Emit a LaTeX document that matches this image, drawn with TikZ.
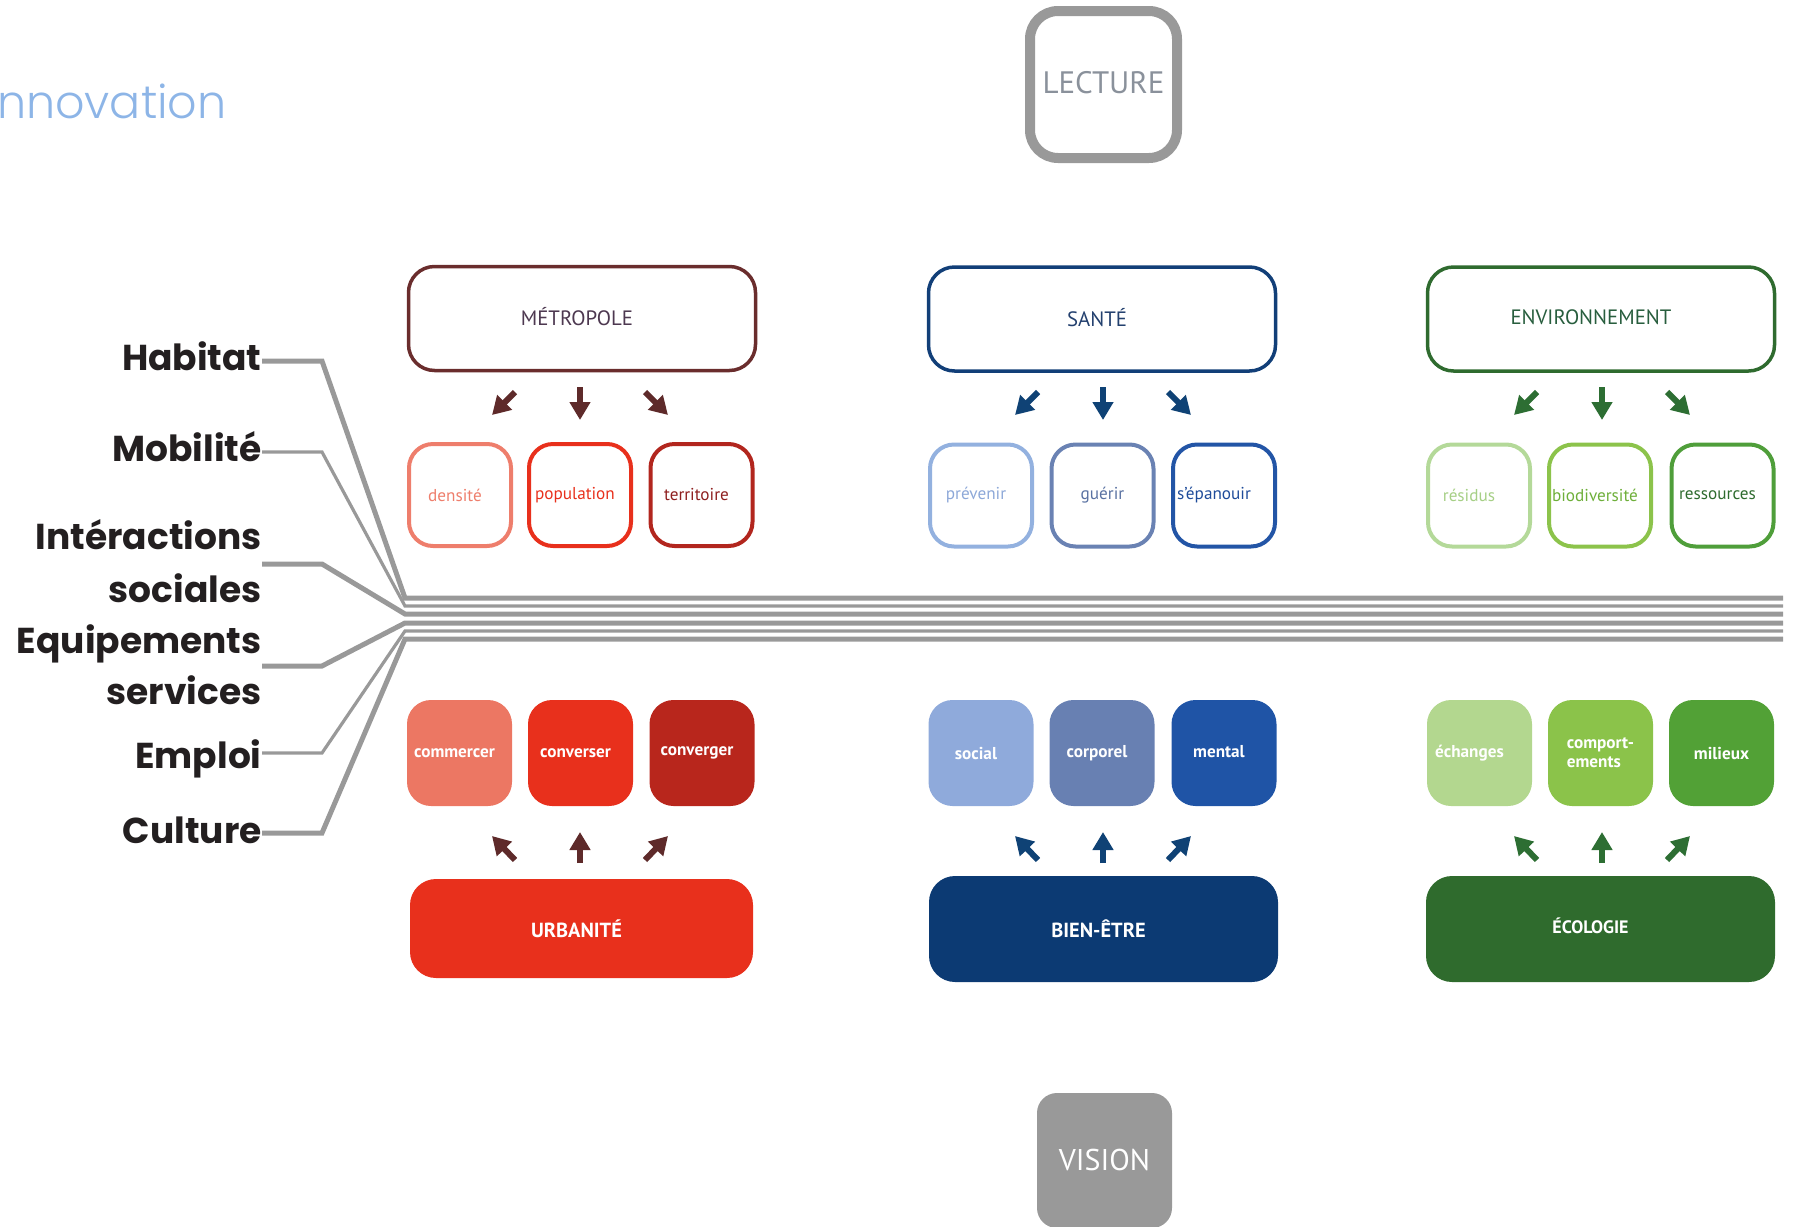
\documentclass[tikz,border=0pt]{standalone}
\usepackage{fontspec}
\setmainfont{PT Sans}
\newfontfamily\geo{Poppins}
\newfontfamily\geolight{Poppins Light}
\usetikzlibrary{arrows.meta}
\newcommand\lft[1]{\hspace*{-5pt}#1}
\definecolor{metroDark}{HTML}{6A2D2D}
\definecolor{metroText}{HTML}{4D3850}
\definecolor{metroArrow}{HTML}{5E2A2A}
\definecolor{salmon}{HTML}{EE7E6C}
\definecolor{salmonFill}{HTML}{EC7763}
\definecolor{redc}{HTML}{E8301C}
\definecolor{darkred}{HTML}{B2261E}
\definecolor{darkredText}{HTML}{8E1F1F}
\definecolor{convFill}{HTML}{B8261C}
\definecolor{santeDark}{HTML}{123F78}
\definecolor{santeText}{HTML}{23406E}
\definecolor{santeArrow}{HTML}{0F4275}
\definecolor{lightblue}{HTML}{93B1DF}
\definecolor{lightblueText}{HTML}{8DA8D8}
\definecolor{socialFill}{HTML}{8FAADB}
\definecolor{midblue}{HTML}{6A82B3}
\definecolor{midblueText}{HTML}{5A72A2}
\definecolor{corpFill}{HTML}{6880B2}
\definecolor{blueb}{HTML}{2355A6}
\definecolor{blueText}{HTML}{1F4C9A}
\definecolor{mentalFill}{HTML}{1F54A6}
\definecolor{bienFill}{HTML}{0C3A73}
\definecolor{envDark}{HTML}{2F6B2F}
\definecolor{envText}{HTML}{285E3E}
\definecolor{envArrow}{HTML}{2D6E33}
\definecolor{lgreen}{HTML}{B4D999}
\definecolor{lgreenText}{HTML}{A6CF86}
\definecolor{echFill}{HTML}{B3D78F}
\definecolor{mgreen}{HTML}{8CC34B}
\definecolor{mgreenText}{HTML}{6EAF3A}
\definecolor{compFill}{HTML}{8BC34A}
\definecolor{dgreen}{HTML}{4F9E3A}
\definecolor{dgreenText}{HTML}{2E6B2E}
\definecolor{milFill}{HTML}{52A136}
\definecolor{ecoFill}{HTML}{2F6B2D}
\definecolor{linegray}{HTML}{999999}
\definecolor{labelc}{HTML}{231F20}
\definecolor{innov}{HTML}{8DB5E7}
\definecolor{lectText}{HTML}{8A919B}
\begin{document}
\begin{tikzpicture}[x=0.5pt,y=-0.5pt,
  bigbox/.style={draw, line width=1.75pt, rounded corners=13pt, minimum width=173.5pt, minimum height=52pt, inner sep=0pt, font=\fontsize{10.4}{12}\selectfont},
  smallbox/.style={draw, line width=2pt, rounded corners=12pt, minimum width=51pt, minimum height=51pt, inner sep=0pt, font=\fontsize{8.6}{9}\selectfont},
  fillbox/.style={rounded corners=12pt, minimum width=52.5pt, minimum height=53pt, inner sep=0pt, text=white, font=\bfseries\fontsize{8.6}{9.5}\selectfont},
  basebox/.style={rounded corners=13pt, minimum width=174.5pt, minimum height=53pt, inner sep=0pt, text=white, font=\bfseries\fontsize{10.2}{11}\selectfont},
  blockarrow/.style={line width=3pt, -{Triangle[width=10pt,length=9pt]}},
  sidelabel/.style={font=\geo\bfseries\fontsize{18}{20}\selectfont, text=labelc, anchor=base east, inner sep=0pt},
  fanthick/.style={draw=linegray, line width=2.5pt},
  fanthin/.style={draw=linegray, line width=1.6pt}
]
\useasboundingbox (0,0) rectangle (1795,1227);

% title
\begin{scope}
\clip (0,0) rectangle (1795,1227);
\node[anchor=base east, inner sep=0pt, text=innov, font=\geolight\fontsize{23}{25}\selectfont] (innovation) at (227,118) {Innovation};
\end{scope}

% LECTURE / VISION
\node[draw=linegray, line width=5pt, rounded corners=14pt, minimum width=73.5pt, minimum height=73.5pt, inner sep=0pt, text=lectText, font=\fontsize{15.5}{17}\selectfont] (lecture) at (1103.5,84.5) {\raisebox{2pt}{LECTURE}};
\node[fill=linegray, rounded corners=10pt, minimum width=67.5pt, minimum height=67.5pt, inner sep=0pt, text=white, font=\fontsize{15}{17}\selectfont] (vision) at (1104.5,1160.5) {\raisebox{1pt}{VISION}};

% fan of lines
\node[sidelabel] (habitat) at (262,370) {Habitat};
\node[sidelabel] (mobilite) at (262,461) {Mobilité};
\node[sidelabel] (interactions) at (262,549) {Intéractions};
\node[sidelabel] (sociales) at (262,602) {sociales};
\node[sidelabel] (equipements) at (262,653) {Equipements};
\node[sidelabel] (services) at (262,704) {services};
\node[sidelabel] (emploi) at (262,768) {Emploi};
\node[sidelabel] (culture) at (262,843) {Culture};

\coordinate (fanend1) at (1783,598);
\coordinate (fanend2) at (1783,606);
\coordinate (fanend3) at (1783,614);
\coordinate (fanend4) at (1783,623);
\coordinate (fanend5) at (1783,631);
\coordinate (fanend6) at (1783,639);

\draw[fanthick] (habitat.east |- 267,361) -- (322,361) -- (405,598) -- (fanend1);
\draw[fanthin] (mobilite.east |- 267,452) -- (322,452) -- (405,606) -- (fanend2);
\draw[fanthick] (interactions.east |- 267,564) -- (322,564) -- (405,614) -- (fanend3);
\draw[fanthick] (equipements.east |- 267,666) -- (322,666) -- (405,623) -- (fanend4);
\draw[fanthin] (emploi.east |- 267,753) -- (322,753) -- (405,631) -- (fanend5);
\draw[fanthick] (culture.east |- 267,833) -- (322,833) -- (405,639) -- (fanend6);

% MÉTROPOLE column
\node[bigbox, draw=metroDark, text=metroText] (metro) at (582,318.5) {\raisebox{2pt}{\lft{MÉTROPOLE}}};
\node[smallbox, draw=salmon, text=salmon] (densite) at (460,495) {\lft{densité}};
\node[smallbox, draw=redc, text=redc] (population) at (580,495) {\lft{population}};
\node[smallbox, draw=darkred, text=darkredText] (territoire) at (701.5,495) {\lft{territoire}};
\node[fillbox, fill=salmonFill] (commercer) at (459.5,753) {\lft{commercer}};
\node[fillbox, fill=redc] (converser) at (580.5,753) {\lft{converser}};
\node[fillbox, fill=convFill] (converger) at (702,753) {\lft{converger}};
\node[basebox, fill=redc, minimum width=171.5pt, minimum height=49.5pt] (urbanite) at (581.5,928.5) {\lft{URBANITÉ}};

% SANTÉ column
\node[bigbox, draw=santeDark, text=santeText] (sante) at (1102,319) {\raisebox{2pt}{\lft{SANTÉ}}};
\node[smallbox, draw=lightblue, text=lightblueText] (prevenir) at (981,495.5) {\lft{prévenir}};
\node[smallbox, draw=midblue, text=midblueText] (guerir) at (1102.5,495.5) {guérir};
\node[smallbox, draw=blueb, text=blueText] (epanouir) at (1224,495.5) {\raisebox{2pt}{\lft{\lft{s’épanouir}}}};
\node[fillbox, fill=socialFill] (social) at (981,753) {\lft{social}};
\node[fillbox, fill=corpFill] (corporel) at (1102,753) {\lft{corporel}};
\node[fillbox, fill=mentalFill] (mental) at (1224,753) {\raisebox{1.5pt}{\lft{mental}}};
\node[basebox, fill=bienFill] (bienetre) at (1103.5,929) {\lft{BIEN-ÊTRE}};

% ENVIRONNEMENT column
\node[bigbox, draw=envDark, text=envText] (env) at (1601,319) {\raisebox{2pt}{\hspace*{-10pt}ENVIRONNEMENT}};
\node[smallbox, draw=lgreen, text=lgreenText] (residus) at (1479,495.5) {\lft{\lft{résidus}}};
\node[smallbox, draw=mgreen, text=mgreenText] (biodiversite) at (1600,495.5) {\lft{biodiversité}};
\node[smallbox, draw=dgreen, text=dgreenText] (ressources) at (1722.5,495.5) {\lft{ressources}};
\node[fillbox, fill=echFill] (echanges) at (1479.5,753) {\lft{\lft{échanges}}};
\node[fillbox, fill=compFill, align=left] (comportements) at (1600.5,753) {comport-\\ements};
\node[fillbox, fill=milFill] (milieux) at (1721.5,753) {\raisebox{-1pt}{milieux}};
\node[basebox, fill=ecoFill, font=\bfseries\fontsize{9}{10}\selectfont] (ecologie) at (1600.5,929) {\raisebox{3pt}{\lft{\lft{ÉCOLOGIE}}}};

% arrows
\foreach \col/\cx/\acol in {metro/580/metroArrow, sante/1103/santeArrow, env/1602/envArrow}{
  \coordinate (\col-dLs) at (\cx-65,392);
  \coordinate (\col-dLe) at (\cx-88,415);
  \coordinate (\col-dMs) at (\cx,387);
  \coordinate (\col-dMe) at (\cx,420);
  \coordinate (\col-dRs) at (\cx+65,392);
  \coordinate (\col-dRe) at (\cx+88,415);
  \coordinate (\col-uLs) at (\cx-65,860);
  \coordinate (\col-uLe) at (\cx-88,836);
  \coordinate (\col-uMs) at (\cx,863);
  \coordinate (\col-uMe) at (\cx,832);
  \coordinate (\col-uRs) at (\cx+65,860);
  \coordinate (\col-uRe) at (\cx+88,836);
  \draw[blockarrow, color=\acol] (\col-dLs) -- (\col-dLe);
  \draw[blockarrow, color=\acol] (\col-dMs) -- (\col-dMe);
  \draw[blockarrow, color=\acol] (\col-dRs) -- (\col-dRe);
  \draw[blockarrow, color=\acol] (\col-uLs) -- (\col-uLe);
  \draw[blockarrow, color=\acol] (\col-uMs) -- (\col-uMe);
  \draw[blockarrow, color=\acol] (\col-uRs) -- (\col-uRe);
}
\end{tikzpicture}
\end{document}
